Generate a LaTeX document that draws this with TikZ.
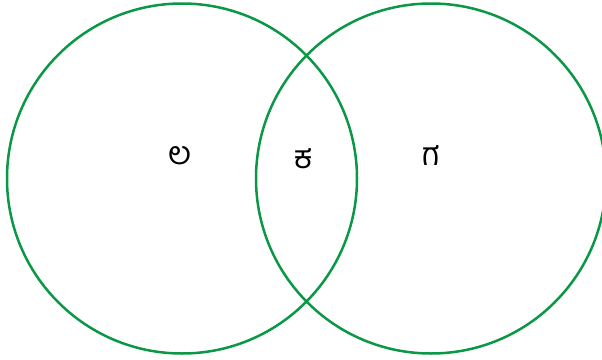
\documentclass[tikz,border=0pt]{standalone}
\usepackage{fontspec}
\newfontfamily\kanfont[Script=Kannada]{Hind Mysuru}
\definecolor{venngreen}{RGB}{10,152,70}
\tikzset{
  setcircle/.style={draw=venngreen, line width=2.5pt},
  setlabel/.style={font=\kanfont\fontsize{32}{38}\selectfont, text=black, inner sep=0pt}
}
\begin{document}
\begin{tikzpicture}[x=1pt,y=-1pt]
\useasboundingbox (0,0) rectangle (602,359);
\clip (0,0) rectangle (602,359);
\node[setcircle, circle, minimum size=350pt, inner sep=0pt] (A) at (182,178.5) {};
\node[setcircle, circle, minimum size=350pt, inner sep=0pt] (B) at (431,178.5) {};
\node[setlabel] (la) at (180,156) {ಲ};
\node[setlabel] (lab) at (304,159) {ಕ};
\node[setlabel] (lb) at (431,156) {ಗ};
\end{tikzpicture}
\end{document}
